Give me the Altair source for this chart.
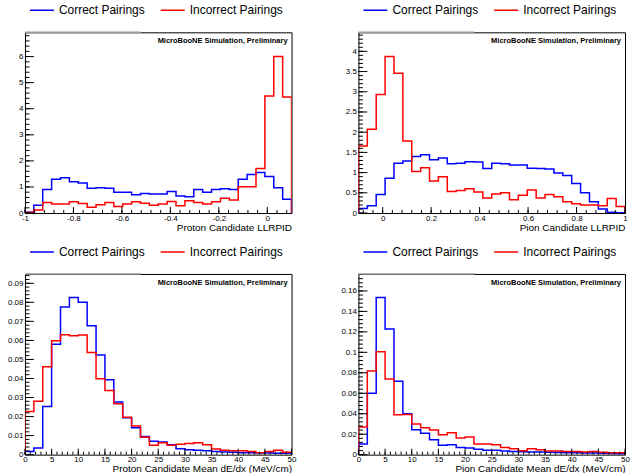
import altair as alt
import numpy as np
import pandas as pd

FONT = "Liberation Sans"
SERIES = ["Correct Pairings", "Incorrect Pairings"]
COLORS = ["#0000ff", "#ff0000"]
TAG = "MicroBooNE Simulation, Preliminary"

W, H = 267, 181          # plot-area size of each panel

# ---- Proton candidate LLR PID -------------------------------------------
p_llr_range = [-1.0, 0.1]
p_llr_ymax = 6.93
p_llr_correct = [0.03, 0.30, 0.90, 1.30, 1.35, 1.20, 1.15, 0.95, 0.97, 0.95,
                 0.80, 0.80, 0.70, 0.75, 0.73, 0.73, 0.83, 0.65, 0.62, 0.90,
                 0.80, 0.90, 0.93, 0.90, 1.30, 1.48, 1.55, 1.40, 0.97, 0.53]
p_llr_incorrect = [0.02, 0.12, 0.40, 0.35, 0.35, 0.43, 0.37, 0.22, 0.32, 0.40,
                   0.25, 0.35, 0.43, 0.38, 0.30, 0.35, 0.44, 0.28, 0.47, 0.40,
                   0.35, 0.43, 0.57, 0.50, 1.01, 1.01, 1.71, 4.49, 6.00, 4.45]
p_llr_xlabels = [-1, -0.8, -0.6, -0.4, -0.2, 0]
p_llr_ylabels = [0, 1, 2, 3, 4, 5, 6]

# ---- Pion candidate LLR PID ---------------------------------------------
pi_llr_range = [-0.1, 1.0]
pi_llr_ymax = 4.47
pi_llr_correct = [0.11, 0.18, 0.46, 0.86, 1.23, 1.29, 1.40, 1.44, 1.32, 1.36,
                  1.22, 1.23, 1.27, 1.26, 1.10, 1.23, 1.22, 1.19, 1.19, 1.11,
                  1.10, 1.09, 0.99, 0.93, 0.73, 0.50, 0.28, 0.10, 0.02, 0.01]
pi_llr_incorrect = [1.66, 2.07, 2.93, 3.87, 3.46, 1.78, 1.03, 1.12, 0.79, 0.90,
                    0.53, 0.56, 0.60, 0.52, 0.37, 0.47, 0.50, 0.33, 0.44, 0.57,
                    0.37, 0.46, 0.40, 0.28, 0.23, 0.20, 0.20, 0.18, 0.36, 0.16]
pi_llr_xlabels = [0, 0.2, 0.4, 0.6, 0.8, 1]
pi_llr_ylabels = [0, 0.5, 1, 1.5, 2, 2.5, 3, 3.5, 4]

# ---- Proton candidate mean dE/dx ----------------------------------------
p_dedx_range = [0, 50]
p_dedx_ymax = 0.0949
p_dedx_correct = [0.0017, 0.0035, 0.0253, 0.0580, 0.0776, 0.0825, 0.0800, 0.0677, 0.0523, 0.0393,
                  0.0277, 0.0194, 0.0141, 0.0096, 0.0070, 0.0066, 0.0052, 0.0031, 0.0026, 0.0023,
                  0.0021, 0.0017, 0.0014, 0.0012, 0.0010, 0.0010, 0.0009, 0.0009, 0.0007, 0.0007]
p_dedx_incorrect = [0.0227, 0.0281, 0.0462, 0.0598, 0.0630, 0.0625, 0.0628, 0.0537, 0.0398, 0.0337,
                    0.0267, 0.0197, 0.0150, 0.0092, 0.0049, 0.0063, 0.0049, 0.0054, 0.0058, 0.0063,
                    0.0052, 0.0030, 0.0023, 0.0021, 0.0021, 0.0017, 0.0010, 0.0017, 0.0023, 0.0012]
dedx_xlabels = [0, 5, 10, 15, 20, 25, 30, 35, 40, 45, 50]
p_dedx_ylabels = [0, 0.01, 0.02, 0.03, 0.04, 0.05, 0.06, 0.07, 0.08, 0.09]

# ---- Pion candidate mean dE/dx ------------------------------------------
pi_dedx_range = [0, 50]
pi_dedx_ymax = 0.1766
pi_dedx_correct = [0.0104, 0.0600, 0.1535, 0.1227, 0.0717, 0.0400, 0.0243, 0.0210, 0.0146, 0.0091,
                   0.0097, 0.0071, 0.0065, 0.0052, 0.0042, 0.0042, 0.0036, 0.0032, 0.0029, 0.0026,
                   0.0026, 0.0023, 0.0021, 0.0019, 0.0018, 0.0016, 0.0015, 0.0013, 0.0012, 0.0010]
pi_dedx_incorrect = [0.0270, 0.0818, 0.1006, 0.0740, 0.0390, 0.0393, 0.0299, 0.0263, 0.0240, 0.0195,
                     0.0214, 0.0162, 0.0172, 0.0104, 0.0104, 0.0097, 0.0071, 0.0058, 0.0039, 0.0058,
                     0.0049, 0.0036, 0.0036, 0.0032, 0.0032, 0.0026, 0.0032, 0.0023, 0.0019, 0.0019]
pi_dedx_ylabels = [0, 0.02, 0.04, 0.06, 0.08, 0.1, 0.12, 0.14, 0.16]


def outline(lo, hi, values, name):
    """Histogram outline: bin edges with contents, closed down to zero at both ends."""
    edges = np.linspace(lo, hi, len(values) + 1)
    xs = [lo] + list(edges[:-1]) + [hi, hi]
    ys = [0.0] + list(values) + [values[-1], 0.0]
    return pd.DataFrame({"x": xs, "y": ys, "i": range(len(xs)), "series": name})


def minor_ticks(lo, hi, step):
    n0 = int(np.ceil(lo / step - 1e-9))
    n1 = int(np.floor(hi / step + 1e-9))
    return [round(k * step, 10) for k in range(n0, n1 + 1)]


def panel(xr, ymax, correct, incorrect, xlabels, ylabels, x_minor, y_minor, xtitle):
    df = pd.concat([outline(xr[0], xr[1], correct, SERIES[0]),
                    outline(xr[0], xr[1], incorrect, SERIES[1])])
    xs = alt.Scale(domain=xr, nice=False, zero=False)
    ys = alt.Scale(domain=[0, ymax], nice=False, zero=True)
    x_axis = alt.Axis(
        values=xlabels, format=".2~f", labelExpr="replace(datum.label, '\u2212', '-')",
        ticks=False, domain=False, grid=False,
        labelFontSize=8, labelFont=FONT, labelColor="black", labelPadding=1,
        labelFlush=False, labelOverlap=False,
        title=xtitle, titleAnchor="end", titleFont=FONT, titleFontSize=10,
        titleFontWeight="normal", titleColor="black", titlePadding=0)
    y_axis = alt.Axis(
        values=ylabels, format=".2~f", ticks=False, domain=False, grid=False,
        labelFontSize=8, labelFont=FONT, labelColor="black", labelPadding=2,
        labelFlush=False, labelOverlap=False, title=None)

    hist = alt.Chart(df).mark_line(interpolate="step-after", strokeWidth=1.5, clip=True).encode(
        x=alt.X("x:Q", scale=xs, axis=x_axis),
        y=alt.Y("y:Q", scale=ys, axis=y_axis),
        color=alt.Color("series:N", scale=alt.Scale(domain=SERIES, range=COLORS),
                        legend=alt.Legend(orient="none", legendX=4, legendY=-29,
                                          direction="horizontal", title=None,
                                          symbolType="stroke", symbolSize=576,
                                          symbolStrokeWidth=1.5, clipHeight=14,
                                          labelFont=FONT, labelFontSize=12,
                                          labelColor="black", labelOffset=4,
                                          columnPadding=14, padding=0,
                                          labelLimit=400)),
        order="i:Q",
    )

    def yticks(vals, length):
        return alt.Chart(pd.DataFrame({"v": vals})).mark_rule(color="black", strokeWidth=1).encode(
            y=alt.Y("v:Q", scale=ys, axis=y_axis), x=alt.value(0), x2=alt.value(length))

    def xticks(vals, length):
        return alt.Chart(pd.DataFrame({"v": vals})).mark_rule(color="black", strokeWidth=1).encode(
            x=alt.X("v:Q", scale=xs, axis=x_axis), y=alt.value(H), y2=alt.value(H - length))

    # grey strip along the left part of the frame top
    top_strip = alt.Chart(pd.DataFrame({"k": [0]})).mark_rule(
        color="#9a9a9a", strokeWidth=1.5).encode(
        x=alt.value(0), x2=alt.value(116), y=alt.value(0))

    tag = alt.Chart(pd.DataFrame({"t": [TAG]})).mark_text(
        align="right", baseline="middle", font=FONT, fontSize=7.5, fontWeight="bold",
        color="black").encode(x=alt.value(W - 4), y=alt.value(9), text="t:N")

    ymin = minor_ticks(0, ymax, y_minor)
    xmin = minor_ticks(xr[0], xr[1], x_minor)

    return alt.layer(
        hist,
        yticks(ymin, 4.5), yticks(ylabels, 9), xticks(xmin, 3), xticks(xlabels, 6),
        top_strip, tag,
    ).properties(width=W, height=H)


p1 = panel(p_llr_range, p_llr_ymax, p_llr_correct, p_llr_incorrect,
           p_llr_xlabels, p_llr_ylabels, 0.04, 0.2, "Proton Candidate LLRPID")
p2 = panel(pi_llr_range, pi_llr_ymax, pi_llr_correct, pi_llr_incorrect,
           pi_llr_xlabels, pi_llr_ylabels, 0.04, 0.1, "Pion Candidate LLRPID")
p3 = panel(p_dedx_range, p_dedx_ymax, p_dedx_correct, p_dedx_incorrect,
           dedx_xlabels, p_dedx_ylabels, 1, 0.002, "Proton Candidate Mean dE/dx (MeV/cm)")
p4 = panel(pi_dedx_range, pi_dedx_ymax, pi_dedx_correct, pi_dedx_incorrect,
           dedx_xlabels, pi_dedx_ylabels, 1, 0.004, "Pion Candidate Mean dE/dx (MeV/cm)")

chart = alt.concat(
    p1, p2, p3, p4, columns=2, spacing={"row": 61, "column": 67}, bounds="flush"
).resolve_scale(
    color="independent", x="independent", y="independent"
).resolve_legend(
    color="independent"
).properties(
    padding={"left": 6, "top": 2, "right": 0, "bottom": 0}, background="white"
).configure_view(stroke="black", strokeWidth=1)

chart.save("out.html", embed_options={"renderer": "svg", "actions": False})
